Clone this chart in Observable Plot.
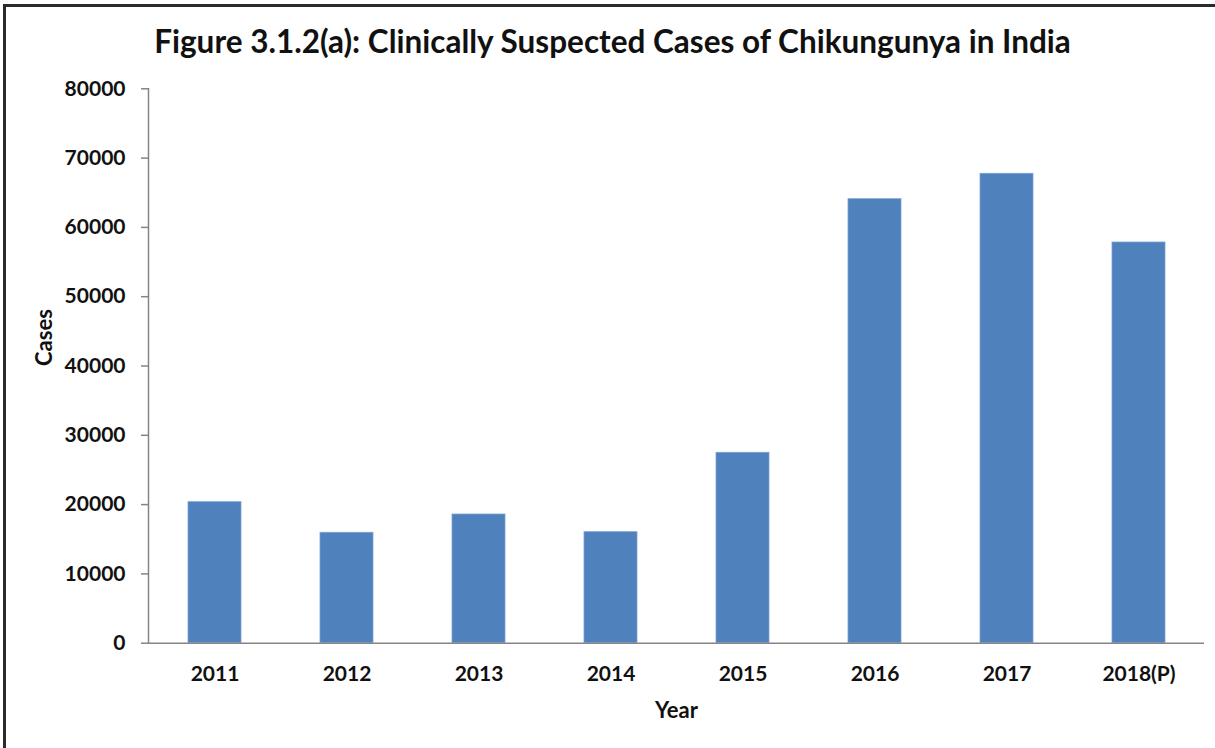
<!DOCTYPE html>
<html>
<head>
<meta charset="utf-8">
<script src="https://cdn.jsdelivr.net/npm/d3@7"></script>
<script src="https://cdn.jsdelivr.net/npm/@observablehq/plot@0.6"></script>
<style>
  html, body { margin: 0; padding: 0; background: #fff; }
  #wrap { position: relative; width: 1215px; height: 748px; overflow: hidden; font-family: Lato, "Open Sans", sans-serif; }
  #frame { position: absolute; left: 3px; top: 4px; width: 1230px; height: 760px; border-top: 3px solid #2b2b2b; border-left: 3px solid #2b2b2b; box-sizing: border-box; }
  #title { position: absolute; left: 0; width: 1225px; top: 21px; text-align: center; font-weight: 700; font-size: 31.5px; line-height: 40px; color: #111; }
  #chart { position: absolute; left: 0; top: 70px; }
</style>
</head>
<body>
<div id="wrap">
  <div id="frame"></div>
  <div id="title">Figure 3.1.2(a): Clinically Suspected Cases of Chikungunya in India</div>
  <div id="chart"></div>
</div>
<script>
const years = ["2011", "2012", "2013", "2014", "2015", "2016", "2017", "2018(P)"];
const cases = [20346, 15931, 18571, 16017, 27475, 64069, 67734, 57821];
const yTicks = [0, 10000, 20000, 30000, 40000, 50000, 60000, 70000, 80000];
const xTitle = "Year";
const yTitle = "Cases";

const data = years.map((year, i) => ({year, cases: cases[i]}));

const chart = Plot.plot({
  width: 1215,
  height: 678,
  marginTop: 18.3,
  marginBottom: 105.3,
  marginLeft: 148,
  marginRight: 11,
  style: {fontFamily: "Lato, 'Open Sans', sans-serif", fontWeight: 700, color: "#111", background: "transparent"},
  x: {domain: years, paddingInner: 0.6, paddingOuter: 0.3},
  y: {domain: [0, 80000]},
  marks: [
    Plot.barY(data, {x: "year", y: "cases", fill: "#4f81bd", stroke: "#7aa1d2", strokeWidth: 0.8}),
    Plot.frame({anchor: "left", stroke: "#858585", strokeWidth: 1.5}),
    Plot.axisY({ticks: yTicks, tickSize: 7, tickPadding: 16, tickFormat: d => String(d), fontSize: 21, stroke: "#858585", strokeWidth: 1.5, fill: "#111", label: null, fontWeight: 700}),
    Plot.axisX({tickSize: 0, tickPadding: 23, fontSize: 21, fill: "#111", label: null, fontWeight: 700}),
    Plot.ruleY([0], {stroke: "#858585", strokeWidth: 1.5}),
    Plot.text([yTitle], {frameAnchor: "left", dx: -104, rotate: -90, fontSize: 22, fontWeight: 700, fill: "#111", lineAnchor: "middle"}),
    Plot.text([xTitle], {frameAnchor: "bottom", dy: 68, fontSize: 22, fontWeight: 700, fill: "#111", lineAnchor: "middle"})
  ]
});
document.getElementById("chart").appendChild(chart);
</script>
</body>
</html>
